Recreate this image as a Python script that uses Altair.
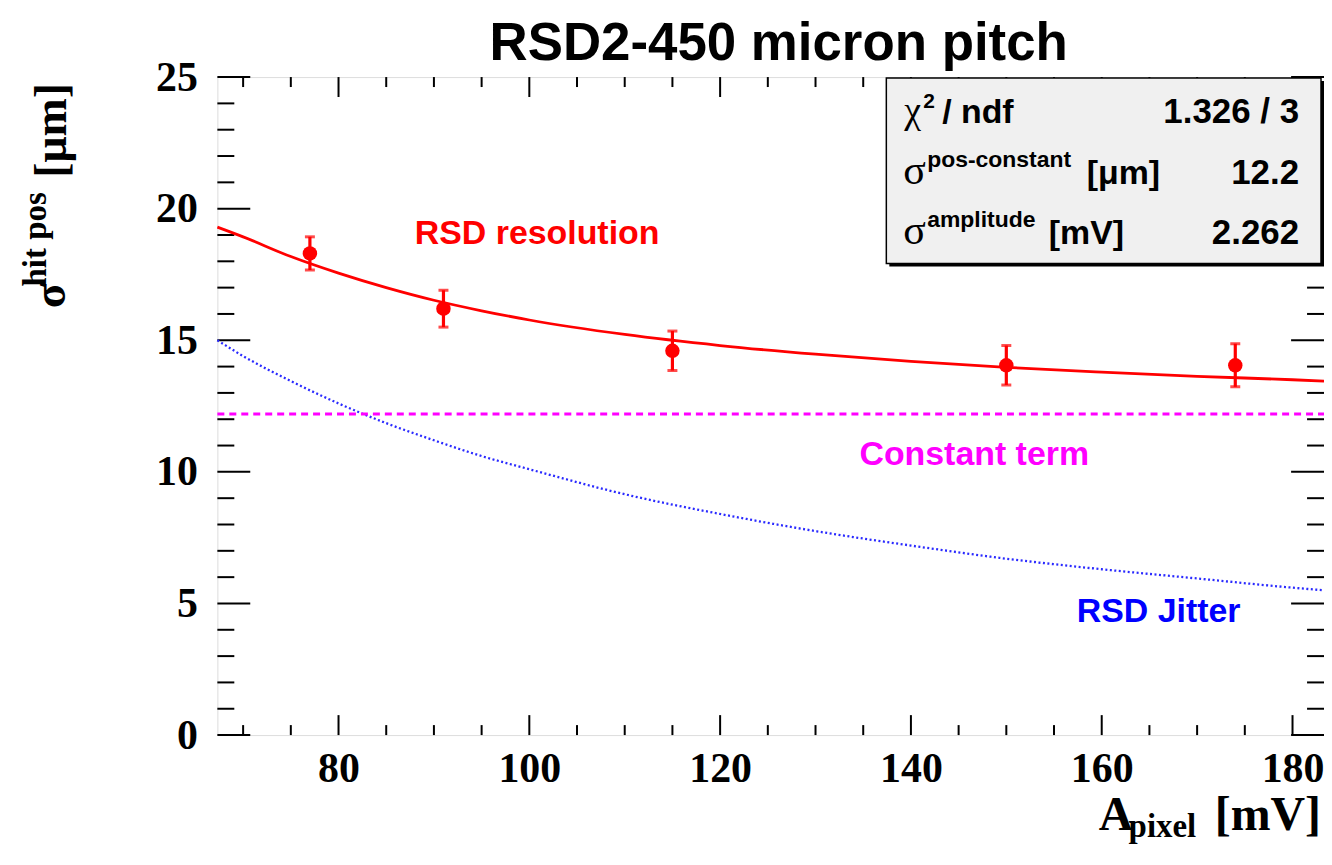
import altair as alt
import pandas as pd

# ---- data ----
amp_points = [77, 91, 115, 150, 174]
sigma_points = [18.3, 16.2, 14.6, 14.05, 14.05]
sigma_err = [0.63, 0.70, 0.75, 0.75, 0.82]

fit_amp = [67.3, 70, 75, 80, 85, 90, 95, 100, 110, 120, 130, 140, 150, 160, 170, 180, 183.3]
fit_resolution = [19.3, 18.93, 18.18, 17.55, 17.0, 16.52, 16.12, 15.77, 15.22, 14.8, 14.47, 14.2, 13.97, 13.79, 13.63, 13.5, 13.45]
fit_jitter = [15.0, 14.4, 13.45, 12.6, 11.85, 11.2, 10.6, 10.1, 9.15, 8.4, 7.75, 7.2, 6.7, 6.3, 5.95, 5.6, 5.5]
const_amp = [67.3, 183.3]
const_value = [12.2, 12.2]

x_major = [80, 100, 120, 140, 160, 180]
x_minor = [70, 75, 85, 90, 95, 105, 110, 115, 125, 130, 135, 145, 150, 155, 165, 170, 175]
y_major = [0, 5, 10, 15, 20, 25]
y_minor = [1, 2, 3, 4, 6, 7, 8, 9, 11, 12, 13, 14, 16, 17, 18, 19, 21, 22, 23, 24]

stat_values = ["1.326 / 3", "12.2", "2.262"]

W, H = 1110, 660
XD = [67.3, 183.3]
YD = [0, 25]

pts = pd.DataFrame({"A": amp_points, "s": sigma_points, "e": sigma_err})
pts["lo"] = pts["s"] - pts["e"]
pts["hi"] = pts["s"] + pts["e"]
fit = pd.DataFrame({"A": fit_amp, "res": fit_resolution, "jit": fit_jitter})
const = pd.DataFrame({"A": const_amp, "c": const_value})

xs = alt.Scale(domain=XD, nice=False, zero=False)
ys = alt.Scale(domain=YD, nice=False, zero=False)

SERIF = "Liberation Serif"
SANS = "Liberation Sans"

AX = alt.Axis(values=x_major, labelFont=SERIF, labelFontWeight="bold", labelFontSize=42,
              labelPadding=14, domain=False, ticks=False, grid=False, labelFlush=False,
              labelColor="black", title="")
AY = alt.Axis(values=y_major, labelFont=SERIF, labelFontWeight="bold", labelFontSize=42,
              labelPadding=20, domain=False, ticks=False, grid=False, labelFlush=False,
              labelColor="black", title="")

def X(f):
    return alt.X(f, scale=xs, axis=AX, title="")

def Y(f):
    return alt.Y(f, scale=ys, axis=AY, title="")

def xticks(vals, length):
    d = pd.DataFrame({"A": vals})
    bottom = alt.Chart(d).mark_rule(color="black", strokeWidth=2).encode(
        x=X("A:Q"), y=alt.value(H), y2=alt.value(H - length))
    top = alt.Chart(d).mark_rule(color="black", strokeWidth=2).encode(
        x=X("A:Q"), y=alt.value(0), y2=alt.value(length))
    return [bottom, top]

def yticks(vals, length):
    d = pd.DataFrame({"s": vals})
    left = alt.Chart(d).mark_rule(color="black", strokeWidth=2).encode(
        y=Y("s:Q"), x=alt.value(0), x2=alt.value(length))
    right = alt.Chart(d).mark_rule(color="black", strokeWidth=2).encode(
        y=Y("s:Q"), x=alt.value(W), x2=alt.value(W - length))
    return [left, right]

tick_layers = xticks(x_major, 20) + xticks(x_minor, 10) + yticks(y_major, 33) + yticks(y_minor, 17)

jitter_line = alt.Chart(fit).mark_line(color="#2a2aff", strokeWidth=2.3, strokeDash=[2, 2.5],
                                       interpolate="monotone").encode(x=X("A:Q"), y=Y("jit:Q"))
const_line = alt.Chart(const).mark_line(color="#ff00ff", strokeWidth=3, strokeDash=[7, 5]).encode(
    x=X("A:Q"), y=Y("c:Q"))
res_line = alt.Chart(fit).mark_line(color="#ff0000", strokeWidth=2.8, interpolate="monotone").encode(
    x=X("A:Q"), y=Y("res:Q"))

err_rule = alt.Chart(pts).mark_rule(color="#ff0000", strokeWidth=3.2).encode(
    x=X("A:Q"), y=Y("lo:Q"), y2="hi:Q")
cap_lo = alt.Chart(pts).mark_tick(color="#ff0000", orient="horizontal", size=10, thickness=3).encode(
    x=X("A:Q"), y=Y("lo:Q"))
cap_hi = alt.Chart(pts).mark_tick(color="#ff0000", orient="horizontal", size=10, thickness=3).encode(
    x=X("A:Q"), y=Y("hi:Q"))
dots = alt.Chart(pts).mark_circle(color="#ff0000", size=210, opacity=1).encode(
    x=X("A:Q"), y=Y("s:Q"))

one = pd.DataFrame({"k": [0]})

def txt(s, x, y, size, color="black", font=SANS, weight="bold", align="left", angle=0, baseline="alphabetic"):
    return alt.Chart(one).mark_text(text=s, fontSize=size, color=color, font=font, fontWeight=weight,
                                    align=align, angle=angle, baseline=baseline).encode(
        x=alt.value(x), y=alt.value(y))

labels = [
    txt("RSD resolution", 198, 167, 34, color="#ff0000"),
    txt("Constant term", 644, 389, 34, color="#ff00ff"),
    txt("RSD Jitter", 862, 547, 34, color="#0000ff"),
]

# stats box
shadow = alt.Chart(one).mark_rect(color="black").encode(
    x=alt.value(674), x2=alt.value(1110), y=alt.value(4), y2=alt.value(190))
box = alt.Chart(one).mark_rect(fill="#f0f0f0", stroke="black", strokeWidth=1.5).encode(
    x=alt.value(671), x2=alt.value(1107), y=alt.value(1), y2=alt.value(187))

rows_y = [46, 107, 167]
stat_text = [
    txt("χ", 689, rows_y[0], 38, font=SERIF, weight="normal"),
    txt("2", 708, rows_y[0] - 15, 21),
    txt("/ ndf", 727, rows_y[0], 34),
    txt("σ", 688, rows_y[1], 42, font=SERIF, weight="normal"),
    txt("pos-constant", 712, rows_y[1] - 17, 23),
    txt("[μm]", 872, rows_y[1], 34),
    txt("σ", 688, rows_y[2], 42, font=SERIF, weight="normal"),
    txt("amplitude", 712, rows_y[2] - 17, 23),
    txt("[mV]", 834, rows_y[2], 34),
]
for v, yy in zip(stat_values, rows_y):
    stat_text.append(txt(v, 1085, yy, 35, align="right"))

# title and axis titles
title = txt("RSD2-450 micron pitch", 563, -17, 53, align="center")
xtitle = [
    txt("A", 884, 755, 48, font=SERIF),
    txt("pixel", 914, 762, 33, font=SERIF),
    txt("[mV]", 1107, 755, 48, font=SERIF, align="right"),
]
ytitle = [
    txt("σ", -153, 232, 46, font=SERIF, angle=270),
    txt("hit pos", -172, 210, 33, font=SERIF, angle=270),
    txt("[μm]", -152, 101, 46, font=SERIF, angle=270),
]

chart = alt.layer(
    *tick_layers, jitter_line, const_line, res_line, err_rule, cap_lo, cap_hi, dots,
    *labels, shadow, box, *stat_text, title, *xtitle, *ytitle
).properties(
    width=W, height=H,
    autosize=alt.AutoSizeParams(type="none"),
    padding={"left": 210, "top": 68, "right": 0, "bottom": 112},
).configure_view(stroke="black", strokeWidth=2.5).configure(background="white")

chart.save("out.html", embed_options={"renderer": "svg", "actions": False})
